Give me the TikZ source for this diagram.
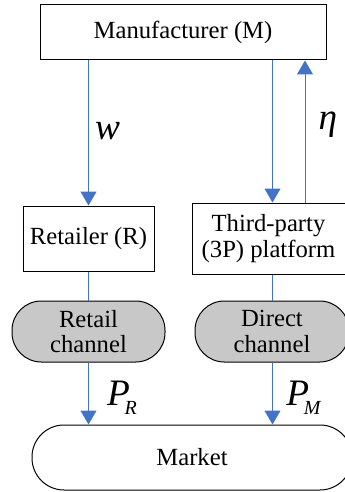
\documentclass[tikz,border=0pt]{standalone}
\usepackage{fontspec}
\setmainfont{Liberation Serif}
\usetikzlibrary{arrows.meta,calc}
\definecolor{arrowblue}{HTML}{4472C4}
\definecolor{chgray}{HTML}{C8C8C8}
\begin{document}
\begin{tikzpicture}[x=0.75pt,y=-0.75pt,
  box/.style={draw=black,line width=0.75pt,fill=white,inner sep=0pt,font=\fontsize{18.5}{21}\selectfont,align=center},
  pill/.style={box,rounded corners=22pt},
  conn/.style={draw=arrowblue,line width=0.75pt},
  arr/.style={conn,-{Triangle[width=12pt,length=10.5pt]},arrowblue},
  mlab/.style={font=\fontsize{28}{30}\selectfont,inner sep=0pt}]
\useasboundingbox (0,0) rectangle (345,492);
\node[box,minimum width=286*0.75pt,minimum height=55*0.75pt] (M) at (183,32.5) {Manufacturer (M)};
\node[box,minimum width=131*0.75pt,minimum height=65*0.75pt] (R) at (88.5,238.5) {Retailer (R)};
\node[box,minimum width=153*0.75pt,minimum height=71*0.75pt] (P) at (268.5,238.5) {Third-party\\[-2pt](3P) platform};
\node[pill,fill=chgray,minimum width=153*0.75pt,minimum height=61*0.75pt] (RC) at (88.5,331.5) {Retail\\[-2pt]channel};
\node[pill,fill=chgray,minimum width=154*0.75pt,minimum height=61*0.75pt] (DC) at (272,331.5) {Direct\\[-2pt]channel};
\node[box,rounded corners=24pt,minimum width=320*0.75pt,minimum height=65*0.75pt] (Mk) at (192,457.5) {Market};
\coordinate (xl) at (88.5,0);
\coordinate (xm) at (272.5,0);
\coordinate (xu) at (305,0);
\draw[arr] (xl |- M.south) -- (xl |- R.north);
\draw[arr] (xm |- M.south) -- (xm |- P.north);
\draw[arr] (xu |- P.north) -- (xu |- M.south);
\draw[conn] (xl |- R.south) -- (xl |- RC.north);
\draw[conn] (xm |- P.south) -- (xm |- DC.north);
\draw[arr] (xl |- RC.south) -- (xl |- Mk.north);
\draw[arr] (xm |- DC.south) -- (xm |- Mk.north);
\node[mlab] (lw) at (107.5,131) {\textit{w}};
\node[mlab] (leta) at (328,125) {\textit{η}};
\node[mlab] (lpr) at (122,398) {\textit{P}\kern-4pt\raisebox{-7pt}{\fontsize{15}{17}\selectfont\textit{R}}};
\node[mlab] (lpm) at (304,398) {\textit{P}\kern-4pt\raisebox{-7pt}{\fontsize{15}{17}\selectfont\textit{M}}};
\end{tikzpicture}
\end{document}
